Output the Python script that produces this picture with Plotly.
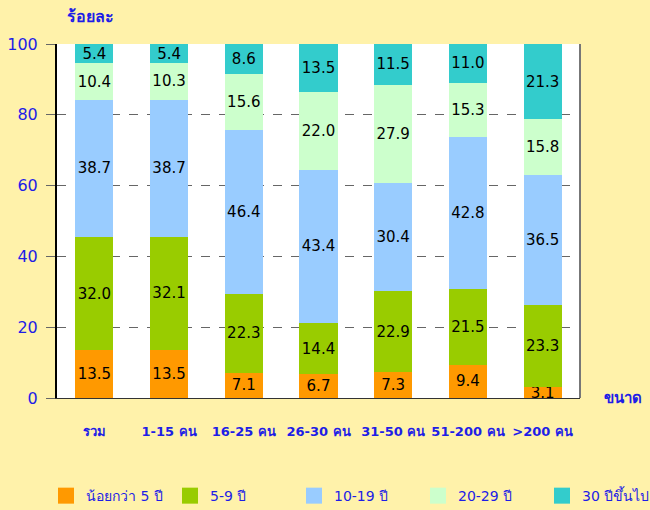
import plotly.graph_objects as go

categories = ["รวม", "1-15 คน", "16-25 คน", "26-30 คน", "31-50 คน", "51-200 คน", ">200 คน"]
series_names = ["น้อยกว่า 5 ปี", "5-9 ปี", "10-19 ปี", "20-29 ปี", "30 ปีขึ้นไป"]
lt5 = [13.5, 13.5, 7.1, 6.7, 7.3, 9.4, 3.1]
y5_9 = [32.0, 32.1, 22.3, 14.4, 22.9, 21.5, 23.3]
y10_19 = [38.7, 38.7, 46.4, 43.4, 30.4, 42.8, 36.5]
y20_29 = [10.4, 10.3, 15.6, 22.0, 27.9, 15.3, 15.8]
y30p = [5.4, 5.4, 8.6, 13.5, 11.5, 11.0, 21.3]
colors = ["#FF9900", "#99CC00", "#99CCFF", "#CCFFCC", "#33CCCC"]
y_ticks = [0, 20, 40, 60, 80, 100]

BLUE = "#1E1EE6"
BG = "#FFF2AA"
FONT = "Tahoma, DejaVu Sans, sans-serif"

fig = go.Figure()
legend_ids = ["legend", "legend2", "legend3", "legend4", "legend5"]
for name, vals, col, lg in zip(series_names, [lt5, y5_9, y10_19, y20_29, y30p], colors, legend_ids):
    fig.add_trace(go.Bar(
        x=categories, y=vals, name=name, showlegend=False,
        marker=dict(color=col, line=dict(width=0)),
        text=[f"{v:.1f}" for v in vals],
        textposition="inside", insidetextanchor="middle",
        textangle=0, constraintext="none",
        textfont=dict(color="black", size=15, family="DejaVu Sans"),
    ))
    # legend-only entry with a larger square swatch
    fig.add_trace(go.Scatter(
        x=[None], y=[None], mode="markers", name=name, legend=lg,
        marker=dict(symbol="square", size=16, color=col, line=dict(width=0)),
        showlegend=True, hoverinfo="skip",
    ))

legend_common = dict(
    orientation="h", xanchor="left", y=-0.277, yanchor="middle",
    font=dict(size=14, color=BLUE, family=FONT),
    traceorder="normal", bgcolor="rgba(0,0,0,0)", itemsizing="trace",
)
plot_l, plot_w = 57, 523
legend_layout = {}
for i, lg in enumerate(legend_ids):
    left_px = 60 + 124 * i - 14
    legend_layout[lg] = dict(x=(left_px - plot_l) / plot_w, **legend_common)

fig.update_layout(
    barmode="stack", bargap=0.49,
    width=650, height=510,
    margin=dict(l=57, r=70, t=44, b=112, autoexpand=False),
    paper_bgcolor=BG, plot_bgcolor="white",
    font=dict(family=FONT, color=BLUE),
    showlegend=True,
    xaxis=dict(
        showgrid=False, ticks="", tickfont=dict(size=13, color=BLUE, weight="bold"),
        ticklabelstandoff=21,
        showline=True, linecolor="#333333", linewidth=1, mirror=False,
    ),
    yaxis=dict(
        range=[0, 100], tickvals=y_ticks,
        showgrid=True, gridcolor="#666666", griddash="dash", gridwidth=1,
        ticks="outside", ticklen=9, tickcolor="#666666",
        ticklabelstandoff=5,
        tickfont=dict(size=16, color=BLUE, family="Verdana, DejaVu Sans, sans-serif"),
        showline=True, linecolor="black", linewidth=2,
        zeroline=False,
    ),
    annotations=[
        dict(text="<b>ร้อยละ</b>", xref="paper", yref="paper", x=0.015, y=1.0,
             xanchor="left", yanchor="bottom", yshift=16, showarrow=False,
             font=dict(size=16, color=BLUE)),
        dict(text="<b>ขนาด</b>", xref="paper", yref="paper", x=1.0, y=0,
             xanchor="left", yanchor="middle", xshift=22, showarrow=False,
             font=dict(size=15, color=BLUE)),
    ],
    shapes=[
        dict(type="line", xref="paper", yref="paper", x0=1, x1=1, y0=0, y1=1,
             line=dict(color="#777777", width=2)),
    ],
    **legend_layout,
)

fig.write_html("out.html", config={"displayModeBar": False},
               post_script="document.body.style.margin='0';")
